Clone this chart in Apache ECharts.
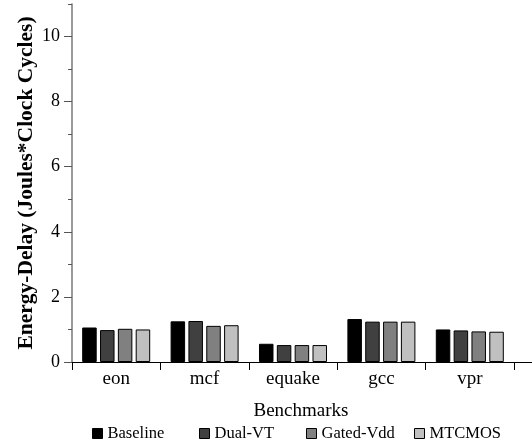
<!DOCTYPE html>
<html><head><meta charset="utf-8">
<script src="https://cdn.jsdelivr.net/npm/echarts@6/dist/echarts.min.js"></script>
<style>html,body{margin:0;padding:0;background:#fff}#c{width:532px;height:446px}</style>
</head><body><div id="c"></div>
<script>
const categories = ['eon', 'mcf', 'equake', 'gcc', 'vpr'];
const seriesNames = ['Baseline', 'Dual-VT', 'Gated-Vdd', 'MTCMOS'];
const baseline = [1.06, 1.25, 0.56, 1.32, 1.00];
const dualVT   = [0.98, 1.26, 0.52, 1.24, 0.97];
const gatedVdd = [1.02, 1.11, 0.52, 1.24, 0.94];
const mtcmos   = [1.00, 1.13, 0.52, 1.24, 0.93];
const majorTicks = [0, 2, 4, 6, 8, 10];
const minorTicks = [1, 3, 5, 7, 9, 11];
const colors = ['#000000', '#404040', '#808080', '#c0c0c0'];

const F = 'Liberation Serif';
const values = [baseline, dualVT, gatedVdd, mtcmos];
const legendLeft = [92, 199, 306, 414];
const chart = echarts.init(document.getElementById('c'));
chart.setOption({
  animation: false,
  grid: { left: 72, right: 18, top: 4, bottom: 84 },
  legend: seriesNames.map((n, i) => ({
    data: [n], left: legendLeft[i], top: 425, itemWidth: 10, itemHeight: 10,
    icon: 'rect', padding: 0,
    itemStyle: { borderColor: '#000', borderWidth: 1 },
    textStyle: { fontFamily: F, fontSize: 16.5, color: '#000' }
  })),
  xAxis: {
    type: 'category', data: categories,
    name: 'Benchmarks', nameLocation: 'middle', nameGap: 40, nameMoveOverlap: false,
    nameTextStyle: { fontFamily: F, fontSize: 19, color: '#000', padding: [0, 0, 0, 16] },
    axisLine: { lineStyle: { color: '#000', width: 1 } },
    axisTick: { show: true, length: 8, lineStyle: { color: '#000' } },
    axisLabel: { fontFamily: F, fontSize: 19, color: '#000', margin: 8 }
  },
  yAxis: [{
    type: 'value', min: 0, max: 11,
    name: 'Energy-Delay (Joules*Clock Cycles)', nameLocation: 'middle', nameGap: 35,
    nameMoveOverlap: false,
    nameTextStyle: { fontFamily: F, fontSize: 21.5, fontWeight: 'bold', color: '#000' },
    axisLine: { show: true, lineStyle: { color: '#777', width: 1.5 } },
    axisTick: { show: true, length: 8, customValues: majorTicks, lineStyle: { color: '#555' } },
    axisLabel: { fontFamily: F, fontSize: 18, color: '#000', margin: 12, customValues: majorTicks },
    splitLine: { show: false }
  }, {
    type: 'value', min: 0, max: 11, position: 'left',
    axisLine: { show: false },
    axisTick: { show: true, length: 4, customValues: minorTicks, lineStyle: { color: '#555' } },
    axisLabel: { show: false },
    splitLine: { show: false }
  }],
  graphic: [{
    type: 'line', shape: { x1: 514, y1: 362.5, x2: 532, y2: 362.5 },
    style: { stroke: '#000', lineWidth: 1 }
  }],
  series: seriesNames.map((n, i) => ({
    name: n, type: 'bar', data: values[i], barWidth: 14.5, barGap: '23%',
    itemStyle: { color: colors[i], borderColor: '#000', borderWidth: 1 }
  }))
});
</script></body></html>
